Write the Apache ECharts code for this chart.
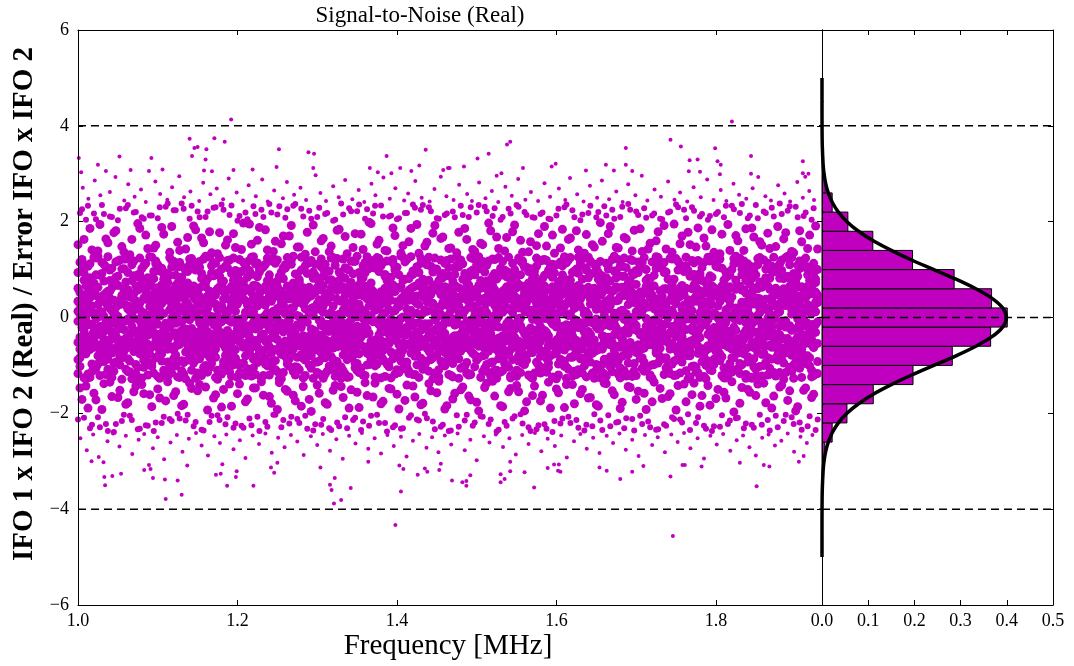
<!DOCTYPE html>
<html>
<head>
<meta charset="utf-8">
<script src="https://cdn.jsdelivr.net/npm/echarts@6/dist/echarts.min.js"></script>
<style>html,body{margin:0;padding:0;background:#fff}#chart{width:1074px;height:666px}</style>
</head>
<body>
<div id="chart"></div>
<script>
// ---------------- DATA ----------------
const titleText = 'Signal-to-Noise (Real)';
const xLabelText = 'Frequency [MHz]';
const yLabelText = 'IFO 1 x IFO 2 (Real) / Error IFO x IFO 2';

const freqMin = 1.0, freqMax = 1.933, freqTickStep = 0.2;
const snrMin = -6, snrMax = 6, snrTickStep = 2;
const densMin = 0, densMax = 0.5, densTickStep = 0.1;
const referenceLevels = [4, 0, -4];

// frequency channel grid for the dense band: even channels start at 1.0000, odd at 1.0025
const freqStartEven = 1.0, freqStartOdd = 1.0025, freqStep = 0.005;
// dense band: S/N values per even frequency channel, in hundredths
const snrEvenChannels = [
[-52,13,61,-8,34,94,-117,-88,152,-213],
[37,-64,-21,5,-46,-75,121,99,-171,226],
[-3,48,-39,66,-17,109,-76,-128,-143,204],
[22,-15,-67,41,58,-125,83,112,186,-231],
[-44,58,9,-29,-62,72,-103,126,-158,217],
[63,-34,27,-57,1,-97,128,-80,139,-208],
[-18,-69,44,12,-38,115,-81,92,-192,235],
[51,-6,-47,30,-25,-73,106,-119,164,-222],
[-26,19,-61,55,40,99,-119,77,-135,211],
[8,-42,36,-70,-11,-112,78,-95,177,-239],
[-59,2,67,-24,29,86,-94,118,-167,203],
[33,-53,-11,46,-66,-129,101,-84,148,-216],
[-7,26,-65,59,-43,74,-108,122,-181,228],
[45,-37,14,-50,23,-91,124,-113,131,-205],
[-63,50,-2,21,-31,118,-71,87,-155,219],
[17,-28,57,-45,66,-104,89,-127,196,-233],
[-35,64,-16,3,-55,79,-126,102,-140,209],
[54,-9,-58,38,-19,-85,113,-72,172,-225],
[-21,41,23,-66,6,127,-77,-99,-161,213],
[10,-60,49,-31,-4,-116,96,81,145,-237],
[-48,27,-14,62,39,-82,110,-123,-149,207],
[29,-55,-36,7,68,103,-91,-76,188,-220],
[-12,44,70,-47,-25,-120,75,93,-174,231],
[57,-20,-62,16,-40,88,-107,125,136,-212],
[-68,35,4,-33,52,-98,117,-86,-163,224],
[24,-1,-45,60,-58,71,-124,105,157,-201],
[-39,61,18,-10,-27,-111,84,-90,-184,238],
[47,-46,-24,33,9,97,-72,-128,143,-215],
[-5,22,-69,51,-36,-79,122,110,-137,206],
[66,-30,11,-54,42,114,-95,-74,191,-227],
[-31,53,-49,0,25,-87,106,-116,-153,221],
[15,-67,39,-19,-50,81,-121,92,166,-234],
[-56,8,-28,64,-13,-100,73,128,-145,210],
[40,-41,55,-3,31,126,-83,-105,179,-218],
[-14,30,-57,48,-65,-74,115,87,-168,229],
[60,-23,3,-38,17,93,-110,-129,133,-204],
[-45,67,-9,25,-32,-118,77,101,-187,236],
[2,-52,43,-64,56,107,-88,-79,151,-223],
[-66,16,-33,37,-6,-92,120,-113,-139,214],
[31,-4,-70,53,44,78,-99,124,175,-230],
[-23,59,28,-43,-15,-125,86,-94,-159,202],
[49,-36,-6,69,-53,96,-116,75,142,-226],
[-58,11,62,-20,35,-80,109,-121,-176,219],
[19,-62,-40,8,-27,119,-73,98,195,-211],
[-9,43,-53,67,12,-105,127,-87,-147,232],
[64,-18,24,-48,-61,85,-94,114,161,-207],
[-37,56,-1,32,-44,-71,102,-126,-134,225],
[26,-49,65,-14,5,111,-85,-97,183,-218],
[-61,3,-25,45,51,-120,79,89,-165,237],
[42,-32,13,-67,-21,-90,123,-108,138,-203],
[-16,65,-46,19,-3,76,-113,120,-192,215],
[55,-12,-59,36,28,-128,95,-77,154,-229],
[-49,38,7,-24,-68,103,-81,110,-150,208],
[12,-57,52,-6,39,-86,117,-102,170,-221],
[-29,20,-66,61,-41,-113,72,128,-162,233],
[68,-44,31,-15,4,91,-104,-83,147,-212],
[-4,51,-21,40,-55,-77,126,99,-185,227],
[35,-65,-3,58,18,108,-89,-121,132,-205],
[-53,9,46,-39,63,-99,114,-72,-171,223],
[21,-27,-52,4,-34,82,-127,95,193,-236],
[-42,62,17,-60,29,-115,80,-93,-141,210],
[58,-16,-37,26,-7,122,-74,106,160,-224],
[-19,36,-69,49,-46,-84,111,-118,-178,216],
[6,-50,41,-29,53,97,-101,78,137,-231],
[-64,24,-8,69,-22,-109,125,-88,-152,202],
[38,-61,56,-12,0,75,-92,123,182,-219],
[-27,4,-44,34,-59,-127,87,-103,-144,238],
[46,-39,20,-55,14,104,-118,82,169,-208],
[-10,66,-30,9,-51,-72,99,-124,-189,228],
[61,-22,-63,43,36,117,-80,91,146,-214],
[-50,47,1,-18,-33,-96,128,-111,-156,222],
[18,-58,59,-41,8,83,-106,74,174,-235],
[-34,12,-12,65,-64,-121,93,115,-136,206],
[53,-33,37,-1,24,102,-77,-98,199,-226],
[-67,55,-54,28,-9,-88,119,-82,-166,217],
[27,-7,22,-62,47,125,-97,107,153,-203],
[-1,40,-48,54,-26,-79,108,-126,-180,234],
[44,-66,10,-23,61,90,-123,86,140,-220],
[-55,17,-35,47,-14,-103,73,-94,-148,211],
[13,-47,68,-8,-42,114,-86,121,187,-229],
[-40,60,-18,20,33,-75,105,-109,-160,205],
[65,-25,-64,39,-2,128,-78,-91,134,-232],
[-22,33,50,-56,-37,-94,116,80,-173,218],
[36,-54,-5,12,57,81,-112,-117,158,-209],
[-62,7,-42,63,-18,-119,90,97,-143,236],
[9,-40,29,-31,45,106,-99,-76,194,-213],
[-46,68,-27,5,-60,-85,124,113,-182,225],
[50,-13,60,-52,16,73,-107,-100,149,-201],
[-13,45,-70,35,-30,-112,78,126,-138,230],
[30,-59,15,-45,65,95,-128,-84,176,-217],
[-57,1,-23,57,-48,-78,101,-122,-157,207],
[23,-35,48,-17,7,120,-91,88,165,-228],
[-33,64,-56,27,-4,-101,113,-73,-191,214],
[62,-10,6,-66,41,87,-119,104,144,-237],
[-8,28,-41,50,-62,-124,76,-96,-170,221],
[43,-51,33,-2,19,109,-83,127,135,-204],
[-60,39,-15,16,-35,-70,120,-106,-151,233],
[14,-63,53,-37,59,92,-102,79,186,-215],
[-24,21,-60,68,-12,-117,85,-120,-164,210],
[57,-30,-9,42,-54,123,-75,99,142,-226],
[-43,52,25,-28,3,-82,111,-89,-177,219],
[4,-56,-47,61,37,77,-125,112,155,-206],
[-65,18,40,-11,-23,-106,95,-79,-146,231],
[32,-45,-31,55,50,118,-70,-115,197,-222],
[-17,66,-53,2,-43,-93,122,86,-133,212],
[48,-4,19,-49,11,80,-110,-127,168,-238],
[-52,29,-64,31,-67,-114,88,103,-184,204],
[20,-38,58,-21,26,99,-96,-81,139,-218],
[-36,57,-7,44,-15,-76,126,-104,-155,227],
[67,-20,-43,10,-58,113,-88,92,179,-211],
[-11,35,62,-63,30,-123,74,-110,-142,235],
[39,-67,-17,24,-1,89,-115,118,161,-202],
[-54,14,-34,50,56,-98,105,-85,-195,220],
[16,-43,41,-56,-29,72,-120,96,137,-229],
[-28,61,-4,15,-50,-127,82,-73,-163,209],
[52,-26,29,-41,8,107,-93,124,150,-233],
[-69,46,-50,36,-19,-81,118,-116,-174,216],
[25,-2,66,-27,43,121,-79,88,190,-223],
[-2,31,-58,59,-38,-104,98,-95,-135,206],
[41,-53,11,-13,64,84,-124,111,172,-239],
[-47,8,-20,53,-7,-74,110,-128,-149,213],
[11,-64,45,-35,22,116,-87,77,145,-221],
[-30,50,-68,23,-46,-91,127,-102,-188,230],
[59,-17,4,-60,35,79,-108,120,163,-207],
[-15,42,-38,64,-25,-122,94,-83,-140,224],
[34,-48,24,-7,52,101,-73,-119,181,-214],
[-61,23,-11,38,-66,-86,115,108,-159,203],
[7,-31,55,-46,13,124,-101,-90,134,-236],
[-41,63,-29,6,-52,-77,83,126,-168,218],
[56,-11,-55,30,28,92,-116,-75,152,-227],
[-20,38,17,-69,-3,-110,104,-98,-182,209],
[28,-60,-22,47,60,75,-126,117,198,-215],
[-50,5,61,-16,-40,-118,79,-87,-137,232],
[18,-41,-46,58,21,110,-94,101,175,-204],
[-6,54,-3,-52,-57,-83,121,-113,-153,225],
[64,-29,35,-21,1,97,-80,83,146,-219],
[-38,13,-62,44,-32,-126,107,-105,-190,210],
[46,-56,8,-4,49,86,-111,124,167,-231],
[-58,47,-33,27,-12,-95,72,-78,-144,237],
[0,-24,52,-65,38,119,-123,93,139,-212],
[-26,69,-17,12,-60,-73,98,-121,-171,221],
[53,-36,-59,41,16,104,-85,110,185,-205],
[-64,20,30,-30,-45,-112,125,-94,-158,228],
[22,-50,-8,63,55,82,-103,76,143,-217],
[-43,37,47,-11,-22,-99,116,-127,-176,213],
[37,-68,-26,19,-6,127,-74,102,160,-234],
[-12,15,-49,56,-64,-88,109,-82,-148,206],
[60,-42,13,-36,31,94,-119,115,192,-223],
[-53,59,-1,8,-38,-108,80,-100,-165,219],
[15,-19,64,-54,46,71,-97,122,136,-208],
[-31,43,-40,29,-16,-120,123,-89,-193,236],
[44,-57,3,-12,62,111,-78,-116,154,-213],
[-5,26,-66,48,-51,-79,103,96,-139,225],
[31,-3,37,-61,10,98,-128,-80,178,-202],
[-48,60,-21,14,-27,-102,87,119,-161,230],
[63,-35,-53,34,44,76,-114,-104,147,-220],
[-22,10,56,-42,-67,-125,92,85,-185,211],
[9,-65,-14,52,25,115,-82,-123,166,-226],
[-59,32,22,-5,-35,-91,126,78,-142,204],
[27,-46,-62,66,4,84,-98,-111,183,-237],
[-35,55,6,-25,-55,-71,117,107,-169,216],
[50,-14,-39,40,33,122,-90,-76,133,-228],
[-16,48,68,-57,-10,-105,78,-126,-156,209],
[39,-61,-28,1,58,90,-121,91,194,-222],
[-66,4,43,-33,-47,-114,100,-84,-134,233],
[14,-27,-50,59,20,78,-109,128,171,-210],
[-44,65,-6,18,-62,-96,124,-117,-179,218],
[58,-33,26,-45,9,118,-76,99,140,-231],
[-9,18,-63,35,-28,-82,112,-93,-150,207],
[32,-52,49,-14,53,106,-127,81,187,-224],
[-55,40,-31,62,-5,-123,89,-108,-163,235],
[19,-8,10,-48,39,74,-102,125,158,-203],
[-40,67,-58,23,-42,-100,120,-74,-137,221],
[66,-21,-2,-39,14,113,-84,-120,176,-214],
[-27,34,42,-62,-18,-87,107,97,-189,229],
[5,-58,-35,51,61,97,-122,-85,148,-205],
[-62,12,-18,30,-36,-115,82,112,-145,238],
[41,-44,60,-9,26,81,-95,-129,164,-216],
[-20,53,-44,45,-56,-73,128,86,-173,223],
[54,-27,16,-68,7,125,-113,-79,138,-208],
[-47,22,-67,10,47,-93,75,-102,-195,231],
[23,-63,34,-22,-12,102,-106,118,181,-219],
[-3,45,-51,57,-40,-78,119,-91,-152,212],
[47,-39,-12,27,65,89,-80,106,144,-227],
[-57,62,8,-46,-24,-110,96,-124,-167,204],
[12,-15,53,-31,32,73,-118,80,191,-235]
];
// dense band: S/N values per odd frequency channel, in hundredths
const snrOddChannels = [
[28,-41,-66,7,52,-84,115,-102,-147,218],
[-55,16,43,-27,-8,93,-126,78,163,-209],
[9,-62,31,-49,65,-118,82,107,-189,233],
[-36,57,-14,24,-51,71,-97,-113,141,-224],
[61,-3,-58,46,-22,-106,124,89,-172,205],
[-19,37,12,-68,40,88,-79,-121,194,-229],
[47,-50,-29,3,-63,-92,111,76,-138,216],
[-67,24,55,-16,33,127,-87,-108,156,-237],
[14,-33,-45,62,-4,-74,103,-125,-165,210],
[-42,69,6,-38,21,116,-93,84,181,-222],
[36,-13,-64,27,-47,-81,120,-99,-152,227],
[-8,50,-25,59,-60,102,-71,122,137,-203],
[58,-57,18,-3,44,-113,94,-86,-178,235],
[-30,8,-52,41,-18,77,-128,110,163,-214],
[22,-68,35,-54,66,-98,85,-117,-143,220],
[-61,30,-7,17,-35,124,-76,91,186,-232],
[41,-22,63,-44,10,-89,108,-104,-159,206],
[-14,47,-37,70,-56,83,-120,74,144,-226],
[65,-6,-20,-60,29,-102,126,-95,-186,213],
[-50,61,26,-9,-41,118,-84,112,151,-219],
[3,-35,-69,50,15,-75,97,-127,-168,230],
[-26,54,8,-31,60,91,-110,80,174,-207],
[52,-48,-15,36,-66,-123,73,-93,-134,238],
[-63,19,44,-1,23,105,-116,119,190,-216],
[30,-59,-32,67,-12,-78,88,-101,-155,224],
[-5,42,-56,13,48,115,-125,77,140,-211],
[69,-27,21,-46,-31,-94,104,-118,-181,227],
[-39,64,-2,29,-58,72,-89,96,167,-203],
[16,-52,57,-23,5,-110,123,-80,-148,233],
[-57,11,-41,53,37,99,-73,-127,183,-218],
[44,-38,-11,-64,62,-86,117,105,-140,209],
[-21,68,33,-6,-45,122,-104,-76,156,-236],
[7,-29,-60,45,19,-71,81,-114,-193,221],
[-48,35,2,-35,-67,108,-96,93,135,-205],
[55,-66,47,-18,28,-125,113,-83,-161,230],
[-11,20,-53,64,-39,87,-118,125,177,-214],
[38,-44,16,-57,54,-100,76,-92,-150,225],
[-65,58,-27,9,-5,119,-108,104,162,-208],
[25,-10,65,-40,-52,-79,92,-123,-185,234],
[-33,46,-67,30,13,98,-85,71,146,-221],
[60,-25,-4,-51,42,-116,121,-100,-139,212],
[-1,53,38,-21,-62,74,-95,115,197,-230],
[-52,-17,59,26,-30,-107,84,-78,-170,205],
[32,-63,-22,52,8,126,-122,90,153,-225],
[-24,39,-48,1,67,-83,112,-119,-147,216],
[49,-5,29,-66,-19,95,-72,102,188,-237],
[-69,28,-35,58,36,-121,106,-87,-162,210],
[10,-54,61,-12,-47,77,-101,124,141,-228],
[-43,66,-19,34,-3,-96,118,-75,-179,219],
[63,-31,5,-43,55,113,-90,-109,159,-203],
[-17,14,-62,48,-25,-70,86,-128,-136,232],
[27,-58,40,-30,-69,104,-115,81,170,-214],
[-59,45,-9,66,17,-88,125,-97,-154,226],
[5,-21,-50,20,-37,120,-77,111,192,-207],
[-34,60,35,-55,50,-103,91,-120,-174,237],
[53,-42,-16,2,-59,79,-109,73,147,-220],
[-7,27,62,-38,31,-126,100,-85,-144,211],
[40,-64,-43,57,-10,92,-74,116,178,-232],
[-66,9,19,-24,45,-80,119,-106,-196,206],
[19,-46,52,-68,-28,111,-93,88,137,-223],
[-45,70,-6,37,-57,-118,78,-91,-158,229],
[67,-19,-55,11,24,86,-127,101,165,-212],
[-28,33,48,-62,-14,-73,96,-112,-181,218],
[11,-56,-27,43,61,124,-82,79,149,-235],
[-54,4,66,-32,-42,-97,109,-123,-142,204],
[35,-40,-13,59,7,75,-114,95,184,-227],
[-12,63,-61,16,-33,-111,122,-78,-167,215],
[56,-24,30,-48,52,101,-88,-125,133,-231],
[-62,48,-38,-5,20,-84,73,118,-151,222],
[23,-67,10,55,-49,117,-105,-96,175,-209],
[-37,15,-57,28,68,-76,94,-115,-188,236],
[45,-33,64,-19,-2,108,-120,83,142,-217],
[-4,56,-24,-61,39,-99,127,-74,-163,226],
[59,-49,4,32,-64,72,-87,106,196,-205],
[-47,22,-65,46,15,-124,103,-101,-137,233],
[18,-15,41,-36,-54,96,-79,123,161,-220],
[-68,52,-30,6,29,-87,115,-90,-175,211],
[29,-60,57,-51,-11,118,-97,77,139,-238],
[-23,36,-3,69,-45,-72,84,-126,-149,213],
[54,-28,-47,14,63,105,-118,99,171,-225],
[-9,62,23,-57,-36,-115,89,-82,-191,207],
[42,-53,-68,39,1,77,-107,126,150,-231],
[-58,17,51,-26,-20,-93,121,-104,-141,218],
[15,-36,-8,60,46,127,-74,88,186,-204],
[-40,65,-51,-12,34,-81,98,-119,-166,229],
[66,-11,27,-41,-61,94,-125,72,134,-215],
[-19,43,-58,55,9,-108,80,-97,-179,235],
[33,-64,13,-24,-43,116,-91,110,157,-210],
[-64,30,-35,48,58,-76,107,-88,-153,222],
[8,-47,68,-5,-26,101,-116,124,192,-233],
[-31,59,-17,22,-65,-124,77,-109,-133,206],
[50,-18,-42,63,32,83,-100,92,168,-224],
[-53,26,39,-46,-7,-90,119,-75,-184,217],
[21,-55,-1,15,55,122,-83,-121,145,-236],
[-16,67,-63,34,-38,-71,90,104,-158,209],
[62,-37,24,-59,12,106,-127,-86,178,-228],
[-44,6,-28,51,-53,-103,112,80,-145,214],
[37,-62,53,-8,41,73,-94,-117,163,-203],
[-6,48,-46,26,-69,-119,125,96,-172,230],
[58,-23,14,-55,4,89,-78,-103,138,-219],
[-60,41,-12,67,-32,-84,101,127,-195,235],
[13,-51,34,-38,63,117,-113,-80,152,-207],
[-27,62,-59,10,-16,-98,76,109,-137,222],
[46,-8,-33,54,-48,79,-122,-94,181,-213],
[-65,32,58,-19,25,-110,92,121,-164,228],
[2,-43,-20,45,-60,125,-86,-72,144,-234],
[-38,55,11,-64,38,-74,117,-111,-186,210],
[64,-30,-49,17,-13,96,-101,85,167,-226],
[-13,19,-67,38,57,-122,79,-126,-148,217],
[31,-57,45,-25,-41,82,-117,100,193,-206],
[-49,69,-14,-2,20,-91,124,-79,-155,231],
[20,-26,65,-53,-63,113,-96,118,136,-221],
[-56,12,-40,31,46,-79,105,-89,-176,214],
[43,-61,7,60,-22,102,-73,-124,158,-237],
[-3,37,-54,-29,68,-116,88,97,-143,208],
[57,-45,20,-63,-8,74,-112,-99,175,-225],
[-32,51,-26,11,42,-105,120,81,-162,219],
[12,-68,60,-42,-31,119,-85,-114,149,-232],
[-51,24,-7,56,-54,-80,99,107,-189,205],
[39,-16,-61,3,27,93,-126,-76,134,-216],
[-20,66,38,-50,-44,-97,74,-120,-157,227],
[66,-40,-18,28,61,108,-92,89,184,-211],
[-43,7,-52,64,-15,-127,114,-103,-140,236],
[8,-59,30,-33,49,78,-83,125,166,-220],
[-62,44,-45,19,-4,-112,97,-78,-180,209],
[26,-21,67,-58,35,126,-109,92,141,-230],
[-15,60,-23,46,-66,-85,80,-116,-150,215],
[50,-53,1,-11,12,99,-124,104,173,-224],
[-35,28,-68,38,-37,-75,118,-93,-167,233],
[61,-7,43,-47,59,111,-71,-127,147,-202],
[-24,49,-10,-67,-21,-102,94,80,-185,220],
[17,-66,-38,52,27,87,-115,-98,159,-235],
[-47,35,64,-4,-56,-123,83,113,-138,213],
[34,-18,-57,25,40,76,-103,-82,190,-227],
[-68,58,9,-36,-13,-96,128,97,-161,206],
[3,-34,36,-60,62,121,-90,-118,145,-218],
[-29,63,-44,15,-46,-81,107,86,-177,231],
[55,-4,-25,49,8,104,-122,-73,164,-210],
[-10,40,58,-52,-62,-119,77,121,-146,225],
[44,-60,-12,31,33,90,-96,-111,182,-236],
[-57,27,-69,4,-29,-72,116,94,-154,214],
[13,-38,47,-65,53,114,-84,-106,138,-222],
[-33,65,-2,22,-18,-108,100,78,-192,208],
[60,-26,-48,42,-57,81,-125,-120,155,-229],
[-5,18,29,-56,66,-98,88,116,-135,217],
[39,-52,-64,10,-36,125,-76,-95,179,-233],
[-49,45,6,-23,24,-87,112,103,-169,205],
[26,-13,60,-45,-48,95,-105,-84,143,-226],
[-66,37,-31,58,11,-117,79,124,-159,221],
[6,-63,-19,34,-65,80,-121,-91,195,-212],
[-41,56,50,-7,41,-74,99,117,-142,230],
[67,-31,-40,18,-17,107,-93,-79,170,-219],
[-25,12,-55,61,-52,-111,126,108,-176,207],
[18,-50,25,-69,30,86,-80,-124,152,-235],
[-55,68,-9,39,-2,-101,114,90,-137,223],
[48,-3,36,-32,-60,119,-75,-115,187,-208],
[-11,25,-66,47,16,-92,104,77,-163,216],
[32,-69,13,-15,56,72,-128,-100,149,-232],
[-64,47,-37,53,-27,-109,87,118,-183,212],
[9,-21,62,-44,44,124,-98,-87,136,-227],
[-30,58,-1,24,-69,-79,119,105,-150,220],
[53,-54,-26,66,3,103,-82,-121,174,-204],
[-44,16,41,-10,-43,-126,95,83,-168,233],
[24,-37,-63,35,64,88,-111,-96,140,-215],
[-2,61,19,-48,-20,-84,123,112,-197,226],
[65,-45,-4,12,-54,115,-74,-108,160,-209],
[-52,32,-50,57,27,-99,101,89,-146,237],
[16,-11,51,-27,-37,77,-119,-127,185,-221],
[-37,69,-21,5,48,-124,92,80,-156,213],
[42,-63,28,-58,-9,100,-86,-103,168,-230],
[-60,5,-47,40,60,-73,110,123,-139,207],
[30,-48,63,-20,-32,121,-122,-77,151,-224],
[-16,38,-12,68,-59,-94,83,101,-178,218],
[59,-29,-58,8,20,82,-106,-118,144,-236],
[-46,54,25,-39,-5,-115,126,95,-164,211],
[20,-67,-34,47,51,106,-78,-89,190,-229],
[-8,44,56,-64,-45,-88,98,120,-141,216],
[51,-20,-7,25,34,125,-115,-74,177,-203],
[-63,31,-55,-17,65,-104,81,110,-153,232],
[36,-58,17,53,-24,92,-127,-99,135,-222],
[-21,64,-40,-3,-61,-77,109,86,-186,209],
[64,-35,46,-66,9,117,-90,-125,158,-234],
[-54,14,-18,42,-38,-96,124,104,-147,219],
[11,-52,65,-29,57,78,-101,-84,172,-206],
[-32,49,-63,21,-14,-121,87,113,-160,228],
[47,-9,31,-54,39,100,-117,-92,143,-213]
];

// sparse outer points [frequency MHz, S/N]
const snrOuterPoints = [
[1.192,4.13],[1.140,3.73],[1.171,3.74],[1.184,3.67],[1.146,3.54],[1.150,3.56],[1.161,3.51],[1.143,3.37],[1.160,3.30],[1.052,3.36],[1.092,3.33],[1.001,3.33],[1.252,3.51],[1.289,3.45],[1.296,3.42],[1.436,3.50],[1.387,3.37],[1.428,3.17],[1.025,3.19],[1.249,3.14],[1.295,3.12],[1.366,3.12],[1.404,3.12],[1.004,3.03],[1.035,3.06],[1.066,3.08],[1.089,3.06],[1.106,3.09],[1.158,3.07],[1.168,3.05],[1.195,3.08],[1.219,3.09],[1.418,3.06],[1.376,3.03],[1.458,3.08],[1.464,3.12],[1.393,3.01],
[1.820,4.09],[1.743,3.71],[1.756,3.57],[1.538,3.61],[1.542,3.67],[1.515,3.42],[1.501,3.32],[1.687,3.54],[1.799,3.53],[1.844,3.37],[1.802,3.26],[1.806,3.19],[1.767,3.28],[1.777,3.30],[1.909,3.26],[1.466,3.12],[1.484,3.15],[1.558,3.12],[1.594,3.15],[1.599,3.21],[1.662,3.19],[1.687,3.19],[1.637,3.07],[1.672,3.07],[1.695,3.06],[1.766,3.05],[1.780,3.04],[1.805,2.99],[1.844,3.00],[1.909,3.01],[1.916,3.00],[1.525,2.96],[1.531,3.01],[1.912,2.94],
[1.398,-4.33],[1.110,-3.79],[1.130,-3.70],[1.321,-3.88],[1.330,-3.81],[1.316,-3.49],[1.318,-3.60],[1.322,-3.35],[1.342,-3.56],[1.405,-3.63],[1.034,-3.50],[1.033,-3.33],[1.043,-3.31],[1.054,-3.26],[1.094,-3.35],[1.109,-3.38],[1.125,-3.40],[1.187,-3.51],[1.220,-3.51],[1.198,-3.33],[1.199,-3.21],[1.173,-3.28],[1.179,-3.26],[1.083,-3.18],[1.089,-3.08],[1.091,-3.16],[1.137,-3.09],[1.017,-3.00],[1.032,-3.02],[1.246,-3.24],[1.242,-3.13],[1.250,-3.03],[1.304,-3.13],[1.426,-3.28],[1.438,-3.22],[1.435,-3.15],[1.453,-3.18],[1.455,-3.05],[1.403,-3.09],[1.408,-3.16],[1.364,-3.01],[1.181,-3.06],
[1.746,-4.56],[1.851,-3.52],[1.572,-3.55],[1.743,-3.32],[1.469,-3.40],[1.482,-3.44],[1.487,-3.41],[1.487,-3.51],[1.492,-3.29],[1.530,-3.44],[1.530,-3.27],[1.535,-3.37],[1.560,-3.23],[1.542,-3.21],[1.680,-3.37],[1.695,-3.22],[1.663,-3.20],[1.654,-3.13],[1.602,-3.20],[1.605,-3.22],[1.597,-3.07],[1.603,-3.07],[1.589,-3.14],[1.542,-3.01],[1.709,-3.10],[1.758,-3.08],[1.761,-3.08],[1.782,-3.11],[1.830,-3.03],[1.860,-3.08],[1.867,-3.11],[1.904,-3.01],[1.910,-2.89],
[1.006,2.71],[1.013,2.48],[1.021,2.86],[1.028,2.55],[1.040,2.62],[1.047,2.93],[1.058,2.44],[1.063,2.78],[1.071,2.52],[1.079,2.67],[1.085,2.41],[1.097,2.84],[1.103,2.58],[1.112,2.46],[1.118,2.72],[1.127,2.95],[1.133,2.51],[1.141,2.63],[1.152,2.43],[1.157,2.81],[1.166,2.57],[1.174,2.69],[1.182,2.47],[1.189,2.90],[1.199,2.61],[1.207,2.44],[1.214,2.76],[1.223,2.53],[1.231,2.88],[1.238,2.42],[1.246,2.65],[1.257,2.49],[1.262,2.83],[1.271,2.56],[1.279,2.71],[1.286,2.45],[1.298,2.97],[1.304,2.60],[1.311,2.43],[1.320,2.74],[1.327,2.51],[1.335,2.87],[1.344,2.47],[1.352,2.66],[1.359,2.41],[1.368,2.79],[1.373,2.55],[1.383,2.92],[1.391,2.48],[1.398,2.70],[1.409,2.44],[1.414,2.59],[1.423,2.85],[1.431,2.50],[1.441,2.42],[1.447,2.68],[1.455,2.94],[1.462,2.53],[1.471,2.45],[1.478,2.77],[1.488,2.58],[1.494,2.43],[1.503,2.82],[1.511,2.49],[1.519,2.64],[1.527,2.41],[1.536,2.73],[1.544,2.54],[1.552,2.89],[1.561,2.46],[1.568,2.62],[1.577,2.43],[1.585,2.80],[1.592,2.52],[1.603,2.69],[1.611,2.45],[1.617,2.91],[1.626,2.57],[1.634,2.42],[1.642,2.75],[1.651,2.50],[1.657,2.86],[1.666,2.47],[1.675,2.63],[1.683,2.41],[1.690,2.78],[1.699,2.55],[1.707,2.96],[1.714,2.44],[1.723,2.67],[1.731,2.52],[1.740,2.84],[1.748,2.46],[1.755,2.61],[1.764,2.42],[1.772,2.72],[1.781,2.51],[1.789,2.88],[1.797,2.45],[1.806,2.66],[1.813,2.43],[1.822,2.79],[1.829,2.56],[1.838,2.48],[1.846,2.70],[1.853,2.93],[1.862,2.53],[1.869,2.44],[1.878,2.76],[1.886,2.59],[1.893,2.42],[1.902,2.83],[1.909,2.50],[1.917,2.64],[1.923,2.45],
[1.003,-2.52],[1.011,-2.77],[1.019,-2.44],[1.026,-2.91],[1.037,-2.58],[1.044,-2.42],[1.052,-2.69],[1.060,-2.47],[1.068,-2.85],[1.076,-2.55],[1.083,-2.43],[1.094,-2.73],[1.100,-2.50],[1.108,-2.96],[1.116,-2.61],[1.124,-2.45],[1.131,-2.80],[1.139,-2.53],[1.148,-2.41],[1.155,-2.67],[1.163,-2.88],[1.171,-2.48],[1.178,-2.62],[1.186,-2.44],[1.195,-2.75],[1.203,-2.56],[1.210,-2.93],[1.219,-2.46],[1.227,-2.64],[1.235,-2.42],[1.243,-2.82],[1.251,-2.51],[1.259,-2.71],[1.267,-2.45],[1.275,-2.59],[1.283,-2.87],[1.292,-2.48],[1.300,-2.66],[1.307,-2.43],[1.316,-2.78],[1.324,-2.54],[1.332,-2.95],[1.340,-2.47],[1.348,-2.63],[1.356,-2.41],[1.364,-2.74],[1.372,-2.52],[1.380,-2.84],[1.388,-2.45],[1.396,-2.68],[1.405,-2.49],[1.412,-2.90],[1.420,-2.57],[1.428,-2.43],[1.437,-2.72],[1.444,-2.50],[1.452,-2.81],[1.460,-2.46],[1.468,-2.65],[1.476,-2.42],[1.485,-2.77],[1.492,-2.55],[1.500,-2.98],[1.509,-2.48],[1.516,-2.61],[1.524,-2.44],[1.533,-2.70],[1.541,-2.52],[1.549,-2.86],[1.557,-2.45],[1.565,-2.64],[1.573,-2.41],[1.581,-2.79],[1.589,-2.53],[1.598,-2.68],[1.606,-2.46],[1.613,-2.92],[1.622,-2.58],[1.630,-2.43],[1.638,-2.74],[1.646,-2.51],[1.654,-2.83],[1.663,-2.47],[1.671,-2.62],[1.679,-2.42],[1.687,-2.76],[1.695,-2.55],[1.703,-2.89],[1.711,-2.45],[1.720,-2.66],[1.727,-2.50],[1.736,-2.81],[1.744,-2.44],[1.752,-2.60],[1.760,-2.41],[1.768,-2.73],[1.777,-2.52],[1.785,-2.94],[1.793,-2.47],[1.801,-2.65],[1.809,-2.43],[1.818,-2.78],[1.826,-2.56],[1.834,-2.46],[1.842,-2.71],[1.850,-2.88],[1.858,-2.51],[1.866,-2.44],[1.874,-2.67],[1.882,-2.57],[1.890,-2.42],[1.898,-2.80],[1.906,-2.49],[1.914,-2.62],[1.921,-2.45]
];

// histogram (normalised) of S/N values, bin width 0.4
const histBinWidth = 0.4;
const histCenters = [-4.4,-4.0,-3.6,-3.2,-2.8,-2.4,-2.0,-1.6,-1.2,-0.8,-0.4,0.0,0.4,0.8,1.2,1.6,2.0,2.4,2.8,3.2,3.6,4.0];
const histDensity = [0.0003,0.0005,0.0008,0.0025,0.006,0.022,0.054,0.111,0.197,0.282,0.365,0.401,0.367,0.286,0.196,0.110,0.056,0.022,0.007,0.002,0.0008,0.0003];

// overlaid Gaussian curve
const curveSnr = [-5.0,-4.5,-4.0,-3.6,-3.2,-3.0,-2.8,-2.6,-2.4,-2.2,-2.0,-1.8,-1.6,-1.4,-1.2,-1.0,-0.8,-0.6,-0.4,-0.2,0.0,0.2,0.4,0.6,0.8,1.0,1.2,1.4,1.6,1.8,2.0,2.2,2.4,2.6,2.8,3.0,3.2,3.6,4.0,4.5,5.0];
const curveDensity = [0.0000,0.0000,0.0001,0.0006,0.0024,0.0044,0.0079,0.0136,0.0224,0.0355,0.054,0.079,0.111,0.150,0.194,0.242,0.290,0.333,0.368,0.391,0.399,0.391,0.368,0.333,0.290,0.242,0.194,0.150,0.111,0.079,0.054,0.0355,0.0224,0.0136,0.0079,0.0044,0.0024,0.0006,0.0001,0.0000,0.0000];

// ---------------- BUILD ----------------
const coreData = [];
snrEvenChannels.forEach((col, i) => {
  const f = freqStartEven + i * freqStep;
  col.forEach(h => coreData.push([f, h / 100]));
});
snrOddChannels.forEach((col, i) => {
  const f = freqStartOdd + i * freqStep;
  col.forEach(h => coreData.push([f, h / 100]));
});
const histData = histCenters.map((c, i) => [c - histBinWidth / 2, c + histBinWidth / 2, histDensity[i]]);
const curveData = curveSnr.map((s, i) => [curveDensity[i], s]);

const MAG = '#bf00bf';
const FONT = '"Liberation Serif", "DejaVu Serif", serif';
const minus = v => (v < 0 ? '\u2212' + Math.abs(v) : String(v));

const tickCommon = { show: true, inside: true, length: 5, lineStyle: { color: '#000', width: 1 } };
const lineCommon = { show: true, onZero: false, lineStyle: { color: '#000', width: 1 } };
const labelFont = { fontFamily: FONT, fontSize: 18, color: '#000' };
const refLineStyle = { color: '#000', width: 1.5, type: [8, 5], opacity: 1 };

// dashed reference lines as line series spanning each panel's x range (on an upper layer)
const refSeriesLeft = referenceLevels.map(v => ({
  type: 'line', xAxisIndex: 0, yAxisIndex: 0, data: [[freqMin, v], [freqMax, v]],
  symbol: 'none', showSymbol: false, silent: true, z: 20, zlevel: 1, lineStyle: refLineStyle
}));
const refSeriesRight = referenceLevels.map(v => ({
  type: 'line', xAxisIndex: 2, yAxisIndex: 2, data: [[densMin, v], [densMax, v]],
  symbol: 'none', showSymbol: false, silent: true, z: 20, zlevel: 1, lineStyle: refLineStyle
}));

const chart = echarts.init(document.getElementById('chart'), null, { renderer: 'canvas' });
chart.setOption({
  animation: false,
  backgroundColor: '#fff',
  grid: [
    { left: 78, right: 252, top: 30, bottom: 61, containLabel: false },
    { left: 822, right: 21, top: 30, bottom: 61, containLabel: false }
  ],
  xAxis: [
    { type: 'value', gridIndex: 0, position: 'bottom', min: freqMin, max: freqMax, interval: freqTickStep, zlevel: 1, z: 10,
      axisLine: lineCommon, axisTick: tickCommon, splitLine: { show: false },
      axisLabel: Object.assign({ margin: 7, showMaxLabel: false, formatter: v => v.toFixed(1) }, labelFont) },
    { type: 'value', gridIndex: 0, position: 'top', min: freqMin, max: freqMax, interval: freqTickStep, zlevel: 1, z: 10,
      axisLine: lineCommon, axisTick: tickCommon, splitLine: { show: false }, axisLabel: { show: false } },
    { type: 'value', gridIndex: 1, position: 'bottom', min: densMin, max: densMax, interval: densTickStep, zlevel: 1, z: 10,
      axisLine: lineCommon, axisTick: tickCommon, splitLine: { show: false },
      axisLabel: Object.assign({ margin: 7, formatter: v => v.toFixed(1) }, labelFont) },
    { type: 'value', gridIndex: 1, position: 'top', min: densMin, max: densMax, interval: densTickStep, zlevel: 1, z: 10,
      axisLine: lineCommon, axisTick: tickCommon, splitLine: { show: false }, axisLabel: { show: false } }
  ],
  yAxis: [
    { type: 'value', gridIndex: 0, position: 'left', min: snrMin, max: snrMax, interval: snrTickStep, zlevel: 1, z: 10,
      axisLine: lineCommon, axisTick: tickCommon, splitLine: { show: false },
      axisLabel: Object.assign({ margin: 9, formatter: minus }, labelFont) },
    { type: 'value', gridIndex: 0, position: 'right', min: snrMin, max: snrMax, interval: snrTickStep, zlevel: 1, z: 10,
      axisLine: lineCommon, axisTick: tickCommon, splitLine: { show: false }, axisLabel: { show: false } },
    { type: 'value', gridIndex: 1, position: 'right', min: snrMin, max: snrMax, interval: snrTickStep, zlevel: 1, z: 10,
      axisLine: lineCommon, axisTick: tickCommon, splitLine: { show: false }, axisLabel: { show: false } },
    { type: 'value', gridIndex: 1, position: 'left', min: snrMin, max: snrMax, interval: snrTickStep, zlevel: 1, z: 10,
      axisLine: lineCommon, axisTick: { show: false }, splitLine: { show: false }, axisLabel: { show: false } }
  ],
  series: [
    { name: 'snr-core', type: 'scatter', xAxisIndex: 0, yAxisIndex: 0, data: coreData,
      progressive: 0, progressiveThreshold: 1000000, large: false, zlevel: 0,
      symbol: 'circle', symbolSize: v => (Math.abs(v[1]) < 2 ? 9 : 6),
      itemStyle: { color: MAG, opacity: 1 }, silent: true, z: 2 },
    { name: 'snr-outer', type: 'scatter', xAxisIndex: 0, yAxisIndex: 0, data: snrOuterPoints,
      progressive: 0, progressiveThreshold: 1000000, zlevel: 0,
      symbol: 'circle', symbolSize: 4, itemStyle: { color: MAG, opacity: 1 }, silent: true, z: 3 },
    { name: 'hist', type: 'custom', xAxisIndex: 2, yAxisIndex: 2, data: histData,
      encode: { x: 2, y: [0, 1] }, z: 2, silent: true,
      renderItem: (params, api) => {
        const lo = api.value(0), hi = api.value(1), d = api.value(2);
        const p0 = api.coord([0, hi]);
        const p1 = api.coord([d, lo]);
        return { type: 'rect', shape: { x: p0[0], y: p0[1], width: p1[0] - p0[0], height: p1[1] - p0[1] },
          style: { fill: MAG, stroke: '#000', lineWidth: 1 } };
      } },
    { name: 'gauss', type: 'line', xAxisIndex: 2, yAxisIndex: 2, data: curveData, smooth: 0.3,
      showSymbol: false, clip: false, silent: true, z: 4,
      lineStyle: { color: '#000', width: 3.5 } }
  ].concat(refSeriesLeft, refSeriesRight),
  graphic: [
    { type: 'text', x: 420, y: 16, silent: true,
      style: { text: titleText, font: '23px ' + FONT, fill: '#000', align: 'center', verticalAlign: 'middle', textAlign: 'center', textVerticalAlign: 'middle' } },
    { type: 'text', x: 448, y: 646, silent: true,
      style: { text: xLabelText, font: '29px ' + FONT, fill: '#000', align: 'center', verticalAlign: 'middle', textAlign: 'center', textVerticalAlign: 'middle' } },
    { type: 'text', x: 25, y: 304, rotation: Math.PI / 2, silent: true,
      style: { text: yLabelText, font: 'bold 29px ' + FONT, fill: '#000', align: 'center', verticalAlign: 'middle', textAlign: 'center', textVerticalAlign: 'middle' } }
  ]
});
</script>
</body>
</html>
